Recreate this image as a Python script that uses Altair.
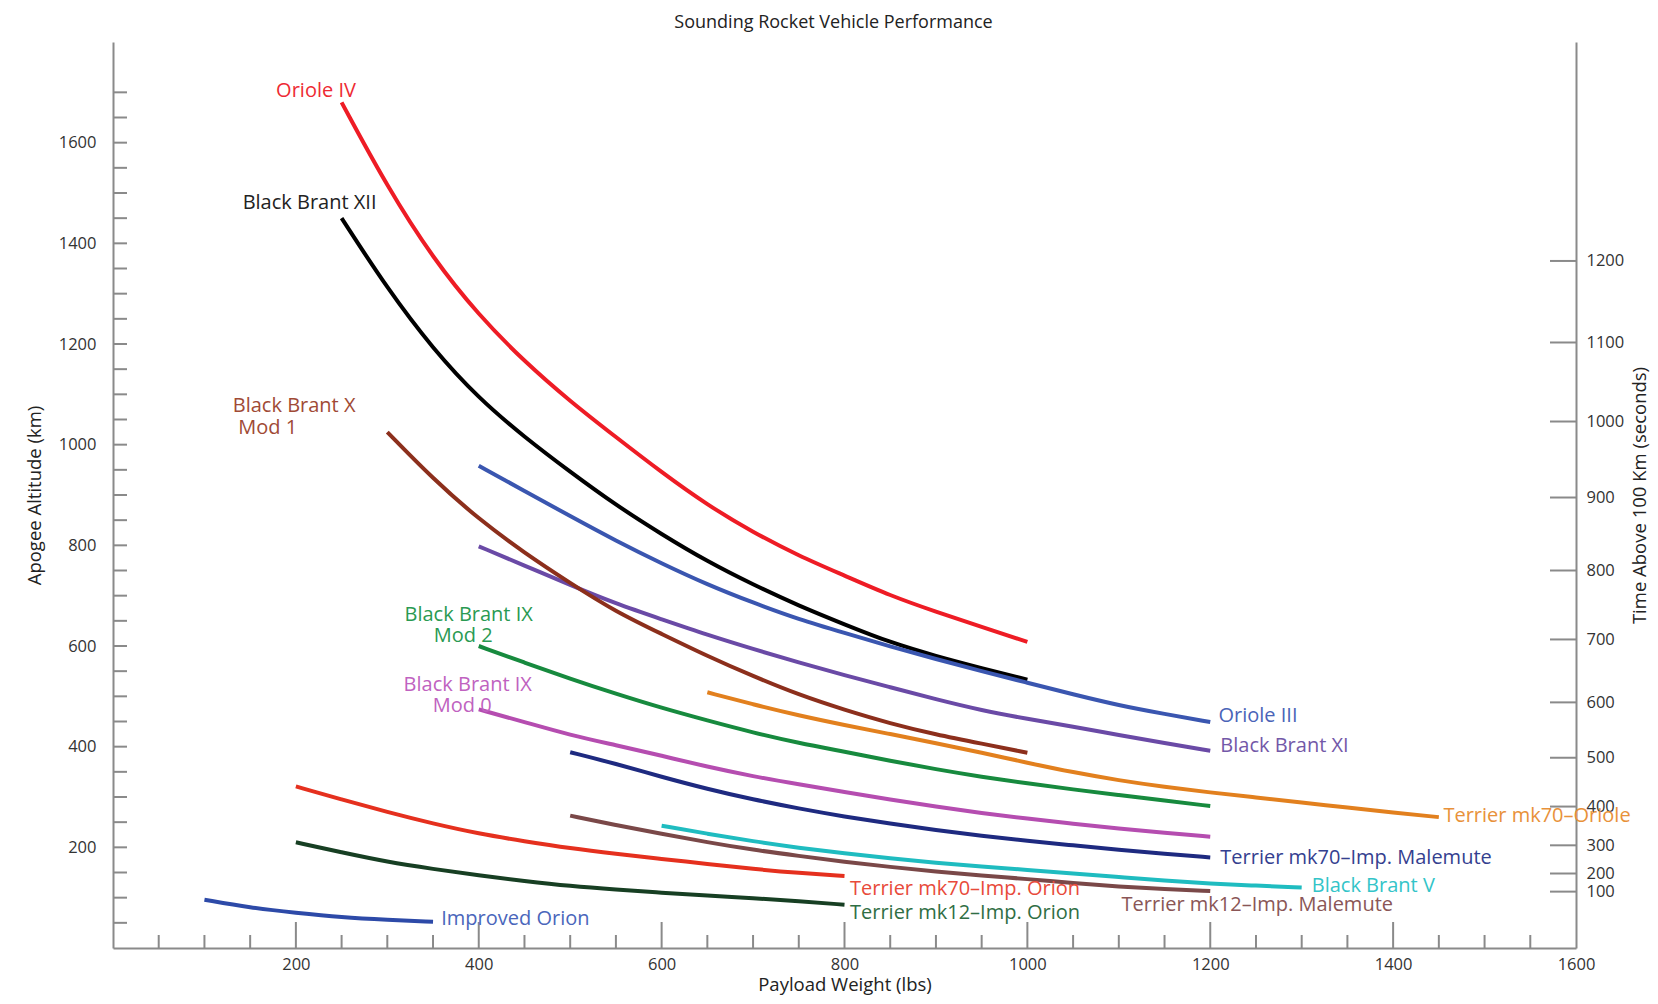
import altair as alt
import pandas as pd

FONT = "Open Sans"

# ---------------- data (payload lbs -> apogee km) ----------------
oriole4_x = [250, 300, 350, 400, 450, 500, 550, 600, 650, 700, 750, 800, 850, 900, 950, 1000]
oriole4_y = [1680, 1512, 1370, 1257, 1165, 1086, 1015, 945, 880, 826, 779, 740, 700, 668, 638, 608]

bb12_x = [250, 300, 350, 400, 450, 500, 550, 600, 650, 700, 750, 800, 850, 900, 950, 1000]
bb12_y = [1450, 1310, 1190, 1092, 1015, 946, 880, 822, 768, 722, 680, 643, 607, 580, 556, 533]

oriole3_x = [400, 450, 500, 550, 600, 650, 700, 750, 800, 850, 900, 950, 1000, 1050, 1100, 1150, 1200]
oriole3_y = [958, 908, 858, 809, 764, 722, 686, 653, 626, 599, 574, 550, 527, 504, 482, 465, 449]

bb11_x = [400, 450, 500, 550, 600, 650, 700, 750, 800, 850, 900, 950, 1000, 1050, 1100, 1150, 1200]
bb11_y = [798, 760, 721, 684, 653, 622, 594, 567, 542, 518, 494, 472, 455, 440, 423, 407, 392]

bb10_x = [300, 350, 400, 450, 500, 550, 600, 650, 700, 750, 800, 850, 900, 950, 1000]
bb10_y = [1025, 932, 852, 785, 725, 668, 624, 580, 540, 503, 473, 446, 424, 406, 388]

t70oriole_x = [650, 700, 750, 800, 850, 900, 950, 1000, 1050, 1100, 1150, 1200, 1250, 1300, 1350, 1400, 1450]
t70oriole_y = [508, 484, 462, 443, 425, 407, 388, 368, 349, 333, 320, 309, 299, 289, 279, 269, 260]

bb9m2_x = [400, 450, 500, 550, 600, 650, 700, 750, 800, 850, 900, 950, 1000, 1050, 1100, 1150, 1200]
bb9m2_y = [600, 567, 535, 505, 477, 452, 428, 407, 390, 372, 355, 340, 327, 315, 304, 293, 282]

bb9m0_x = [400, 450, 500, 550, 600, 650, 700, 750, 800, 850, 900, 950, 1000, 1050, 1100, 1150, 1200]
bb9m0_y = [474, 449, 423, 403, 382, 360, 341, 325, 310, 295, 281, 268, 257, 247, 237, 229, 221]

t70mal_x = [500, 550, 600, 650, 700, 750, 800, 850, 900, 950, 1000, 1050, 1100, 1150, 1200]
t70mal_y = [389, 366, 340, 316, 295, 277, 261, 247, 234, 223, 213, 204, 195, 187, 180]

t12mal_x = [500, 550, 600, 650, 700, 750, 800, 850, 900, 950, 1000, 1050, 1100, 1150, 1200]
t12mal_y = [263, 244, 227, 210, 195, 183, 171, 161, 152, 144, 137, 129, 122, 117, 113]

bb5_x = [600, 650, 700, 750, 800, 850, 900, 950, 1000, 1050, 1100, 1150, 1200, 1250, 1300]
bb5_y = [243, 227, 212, 199, 188, 178, 169, 162, 155, 148, 141, 134, 128, 124, 120]

t70orion_x = [200, 250, 300, 350, 400, 450, 500, 550, 600, 650, 700, 750, 800]
t70orion_y = [321, 295, 270, 247, 227, 212, 198, 187, 177, 167, 157, 149, 143]

t12orion_x = [200, 250, 300, 350, 400, 450, 500, 550, 600, 650, 700, 750, 800]
t12orion_y = [210, 190, 171, 157, 144, 133, 123, 116, 110, 104, 99, 93, 86]

iorion_x = [100, 150, 200, 250, 300, 350]
iorion_y = [96, 80, 70, 61, 56, 52]

series_names = ["Oriole IV", "Black Brant XII", "Oriole III", "Black Brant XI",
                "Black Brant X Mod 1", "Terrier mk70-Oriole", "Black Brant IX Mod 2",
                "Black Brant IX Mod 0", "Terrier mk70-Imp. Malemute", "Terrier mk12-Imp. Malemute",
                "Black Brant V", "Terrier mk70-Imp. Orion", "Terrier mk12-Imp. Orion", "Improved Orion"]
series_colors = ["#ee1c25", "#000000", "#3a56b0", "#6a4aa6",
                 "#8c2f1c", "#e2801e", "#178a3e",
                 "#b54db0", "#1e2a80", "#7a4848",
                 "#1fbcc0", "#e5301e", "#173f23", "#2d4aa8"]
series_xy = [(oriole4_x, oriole4_y), (bb12_x, bb12_y), (oriole3_x, oriole3_y), (bb11_x, bb11_y),
             (bb10_x, bb10_y), (t70oriole_x, t70oriole_y), (bb9m2_x, bb9m2_y),
             (bb9m0_x, bb9m0_y), (t70mal_x, t70mal_y), (t12mal_x, t12mal_y),
             (bb5_x, bb5_y), (t70orion_x, t70orion_y), (t12orion_x, t12orion_y), (iorion_x, iorion_y)]

# labels: text, x (lbs), y (km), colour
label_center_text = ["Oriole IV", "Black Brant XII", "Black Brant IX", "Mod 2", "Black Brant IX", "Mod 0"]
label_center_x = [222, 215, 389, 383, 388, 382]
label_center_y = [1702, 1480, 662, 619, 523, 480]
label_center_col = ["#ee2a33", "#222222", "#2a9a52", "#2a9a52", "#c062c0", "#c062c0"]

label_left_text = ["Black Brant X", " Mod 1", "Improved Orion", "Terrier mk70\u2013Imp. Orion",
                   "Terrier mk12\u2013Imp. Orion", "Terrier mk12\u2013Imp. Malemute", "Black Brant V",
                   "Terrier mk70\u2013Imp. Malemute", "Terrier mk70\u2013Oriole", "Oriole III", "Black Brant XI"]
label_left_x = [131, 137, 359, 806, 806, 1103, 1311, 1211, 1455, 1209, 1211]
label_left_y = [1077, 1033, 58, 118, 70, 86, 123, 179, 262, 460, 402]
label_left_col = ["#a04a35", "#a04a35", "#4a66bb", "#e84a3a", "#2f6e44", "#8a5656", "#33c4c8",
                  "#34408f", "#e8913a", "#4a64b8", "#7358a8"]

# axes
x_label_values = [200, 400, 600, 800, 1000, 1200, 1400, 1600]
x_major_ticks = [200, 400, 600, 800, 1000, 1200, 1400]
x_minor_ticks = [50, 100, 150, 250, 300, 350, 450, 500, 550, 650, 700, 750, 850, 900, 950,
                 1050, 1100, 1150, 1250, 1300, 1350, 1450, 1500, 1550]
y_label_values = [200, 400, 600, 800, 1000, 1200, 1400, 1600]
y_ticks = list(range(50, 1750, 50))
time_labels = ["1200", "1100", "1000", "900", "800", "700", "600", "500", "400", "300", "200", "100"]
time_tick_km = [1365, 1203, 1046, 895, 750, 613, 488, 378, 281, 204, 148, 112]

# ---------------- build tables ----------------
rows = []
for name, (xs, ys) in zip(series_names, series_xy):
    for a, b in zip(xs, ys):
        rows.append({"series": name, "lbs": a, "km": b})
df = pd.DataFrame(rows)

df_lc = pd.DataFrame({"text": label_center_text, "lbs": label_center_x, "km": label_center_y, "col": label_center_col})
df_ll = pd.DataFrame({"text": label_left_text, "lbs": label_left_x, "km": label_left_y, "col": label_left_col})
df_xmaj = pd.DataFrame({"lbs": x_major_ticks})
df_xmin = pd.DataFrame({"lbs": x_minor_ticks})
df_yt = pd.DataFrame({"km": y_ticks})
df_time = pd.DataFrame({"km": time_tick_km, "label": time_labels})

W, H = 1463, 906
AX = "#8a8a8a"

xscale = alt.Scale(domain=[0, 1600], nice=False, zero=False)
yscale = alt.Scale(domain=[0, 1800], nice=False, zero=False)

x_axis = alt.Axis(values=x_label_values, title="Payload Weight (lbs)", ticks=False, grid=False,
                  format="d",
                  domainColor=AX, domainWidth=2, labelFont=FONT, labelFontSize=16.5, labelColor="#333",
                  labelPadding=8, titleFont=FONT, titleFontSize=18.5, titleFontWeight="normal",
                  titleColor="#222", titlePadding=3, labelFlush=False)
y_axis = alt.Axis(values=y_label_values, title="Apogee Altitude (km)", ticks=False, grid=False,
                  format="d",
                  domainColor=AX, domainWidth=2, labelFont=FONT, labelFontSize=16.5, labelColor="#333",
                  labelPadding=17, titleFont=FONT, titleFontSize=18.5, titleFontWeight="normal",
                  titleColor="#222", titlePadding=14, labelFlush=False)

arr_labels = "[" + ",".join("'%s'" % t for t in time_labels) + "]"
arr_vals = "[" + ",".join(str(v) for v in time_tick_km) + "]"
r_axis = alt.Axis(orient="right", values=time_tick_km,
                  labelExpr=f"{arr_labels}[indexof({arr_vals}, datum.value)]",
                  title="Time Above 100 Km (seconds)", ticks=False, grid=False,
                  domainColor=AX, domainWidth=2, labelFont=FONT, labelFontSize=16.5, labelColor="#333",
                  labelPadding=10, titleFont=FONT, titleFontSize=18.5, titleFontWeight="normal",
                  titleColor="#222", titlePadding=26, titleAngle=270, labelFlush=False)

X = lambda: alt.X("lbs:Q", scale=xscale, axis=x_axis)
Y = lambda: alt.Y("km:Q", scale=yscale, axis=y_axis)

lines = alt.Chart(df).mark_line(strokeWidth=4, interpolate="basis", strokeCap="butt").encode(
    x=X(), y=Y(),
    color=alt.Color("series:N", scale=alt.Scale(domain=series_names, range=series_colors), legend=None),
    detail="series:N",
)

left_ticks = alt.Chart(df_yt).mark_rule(color=AX, strokeWidth=2).encode(
    y=Y(), x=alt.value(0), x2=alt.value(14))
bot_major = alt.Chart(df_xmaj).mark_rule(color=AX, strokeWidth=2).encode(
    x=X(), y=alt.value(H), y2=alt.value(H - 26))
bot_minor = alt.Chart(df_xmin).mark_rule(color=AX, strokeWidth=2).encode(
    x=X(), y=alt.value(H), y2=alt.value(H - 13))

text_c = alt.Chart(df_lc).mark_text(align="center", baseline="middle", font=FONT, fontSize=20).encode(
    x=X(), y=Y(), text="text:N", color=alt.Color("col:N", scale=None))
text_l = alt.Chart(df_ll).mark_text(align="left", baseline="middle", font=FONT, fontSize=20).encode(
    x=X(), y=Y(), text="text:N", color=alt.Color("col:N", scale=None))

main = alt.layer(left_ticks, bot_major, bot_minor, lines, text_c, text_l)

right = alt.Chart(df_time).mark_rule(color=AX, strokeWidth=2).encode(
    x=alt.value(W - 26), x2=alt.value(W),
    y=alt.Y("km:Q", scale=yscale, axis=r_axis))

chart = alt.layer(main, right).resolve_scale(y="independent").properties(
    width=W, height=H,
    autosize=alt.AutoSizeParams(type="none"),
    padding={"left": 105, "top": 34, "right": 74, "bottom": 48},
    title=alt.TitleParams("Sounding Rocket Vehicle Performance", font=FONT, fontSize=18,
                          fontWeight="normal", color="#222", offset=10, dx=-11, anchor="middle"),
).configure_view(stroke=None)

chart.save("out.html", embed_options={"renderer": "svg", "actions": False})
